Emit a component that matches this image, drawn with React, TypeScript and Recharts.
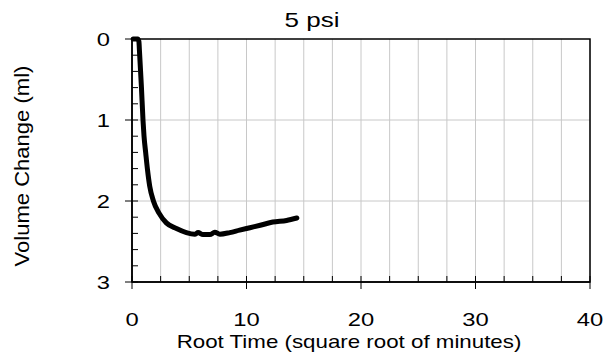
import React from 'react'
import {
  ComposedChart,
  Line,
  XAxis,
  YAxis,
  CartesianGrid,
  ReferenceArea,
  Customized,
  Label,
} from 'recharts'

// (root time vs volume change)
const rootTime = [
  0.1, 0.3, 0.5, 0.6, 0.66, 0.82, 0.96, 1.05, 1.2, 1.35, 1.55, 1.87, 2.36, 3.0,
  3.88, 4.75, 5.48, 5.77, 6.2, 6.8, 7.23, 7.67, 8.54, 9.4, 10.3, 11.2, 12.3,
  13.5, 14.4,
]
const volumeChange = [
  0, 0, 0, 0.03, 0.17, 0.585, 1.0, 1.2, 1.41, 1.61, 1.82, 2.0, 2.15, 2.27,
  2.34, 2.39, 2.41, 2.39, 2.415, 2.415, 2.385, 2.41, 2.39, 2.36, 2.33, 2.3,
  2.26, 2.24, 2.21,
]

const xTicks = [
  0, 2.5, 5, 7.5, 10, 12.5, 15, 17.5, 20, 22.5, 25, 27.5, 30, 32.5, 35, 37.5, 40,
]
const yTicks = [
  0, 0.2, 0.4, 0.6, 0.8, 1, 1.2, 1.4, 1.6, 1.8, 2, 2.2, 2.4, 2.6, 2.8, 3,
]
const yGrid = [1, 2]

const data = rootTime.map((t, i) => ({ t, v: volumeChange[i] }))

const FONT = '"Liberation Sans", Arial, sans-serif'
const STRETCH = 1.25

const XTick = (props: any) => {
  const { x, y, payload } = props
  const major = payload.value % 10 === 0
  return (
    <g>
      <line x1={x} x2={x} y1={y - 6} y2={major ? y + 7 : y} stroke="#000" strokeWidth={1} />
      {major && (
        <text
          transform={`translate(${x},${y + 44}) scale(${STRETCH},1)`}
          textAnchor="middle"
          fontSize={19}
          fontFamily={FONT}
          fill="#000"
        >
          {payload.value}
        </text>
      )}
    </g>
  )
}

const YTick = (props: any) => {
  const { x, y, payload } = props
  const major = Math.abs(payload.value - Math.round(payload.value)) < 1e-6
  return (
    <g>
      <line x1={major ? x - 7 : x} x2={x + 6} y1={y} y2={y} stroke="#000" strokeWidth={1} />
      {major && (
        <text
          transform={`translate(${x - 22},${y + 7}) scale(${STRETCH},1)`}
          textAnchor="end"
          fontSize={19}
          fontFamily={FONT}
          fill="#000"
        >
          {payload.value}
        </text>
      )}
    </g>
  )
}

const Title = () => (
  <text
    transform="translate(312,27) scale(1.3,1)"
    textAnchor="middle"
    fontSize={20}
    fontFamily={FONT}
    fill="#000"
  >
    5 psi
  </text>
)

export default function App() {
  return (
    <div style={{ position: 'absolute', left: 0, top: 0 }}>
      <ComposedChart
        width={612}
        height={360}
        data={data}
        margin={{ top: 39, right: 22, left: 0, bottom: 0 }}
      >
        <CartesianGrid stroke="#c8c8c8" horizontalValues={yGrid} />
        <XAxis
          dataKey="t"
          type="number"
          domain={[0, 40]}
          ticks={xTicks}
          interval={0}
          height={78}
          tickSize={0}
          tickMargin={0}
          tickLine={false}
          tick={<XTick />}
          axisLine={{ stroke: '#000', strokeWidth: 1.5 }}
        >
          <Label
            content={() => (
              <text
                transform="translate(349,348) scale(1.24,1)"
                textAnchor="middle"
                fontSize={18}
                fontFamily={FONT}
                fill="#000"
              >
                Root Time (square root of minutes)
              </text>
            )}
          />
        </XAxis>
        <YAxis
          type="number"
          domain={[0, 3]}
          reversed
          ticks={yTicks}
          interval={0}
          width={132}
          tickSize={0}
          tickMargin={0}
          tickLine={false}
          tick={<YTick />}
          axisLine={{ stroke: '#000', strokeWidth: 1.5 }}
        >
          <Label
            content={() => (
              <text
                transform="translate(29,166) rotate(-90) scale(1.13,1)"
                textAnchor="middle"
                fontSize={19.5}
                fontFamily={FONT}
                fill="#000"
              >
                Volume Change (ml)
              </text>
            )}
          />
        </YAxis>
        <ReferenceArea
          x1={0}
          x2={40}
          y1={0}
          y2={3}
          fill="none"
          stroke="#000"
          strokeWidth={1.5}
        />
        <Line
          dataKey="v"
          type="monotone"
          stroke="#000"
          strokeWidth={5}
          strokeLinejoin="round"
          strokeLinecap="round"
          dot={false}
          isAnimationActive={false}
        />
        <Customized component={Title} />
      </ComposedChart>
    </div>
  )
}
